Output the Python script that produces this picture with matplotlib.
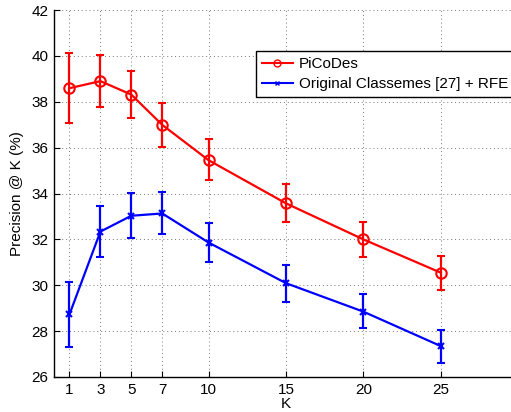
import numpy as np
import matplotlib as mpl
mpl.use("Agg")
import matplotlib.pyplot as plt
from matplotlib.lines import Line2D

mpl.rcParams.update({"font.family": ["Liberation Sans", "DejaVu Sans"]})

# Precision@K for the two methods, with lower/upper ends of the error bars
K = [1, 3, 5, 7, 10, 15, 20, 25]
picodes = [38.59, 38.90, 38.31, 36.99, 35.45, 33.57, 32.00, 30.55]
picodes_lo = [37.06, 37.76, 37.29, 36.04, 34.59, 32.74, 31.25, 29.79]
picodes_hi = [40.14, 40.04, 39.34, 37.93, 36.36, 34.40, 32.77, 31.28]
classemes = [28.73, 32.34, 33.03, 33.13, 31.86, 30.09, 28.85, 27.35]
classemes_lo = [27.30, 31.22, 32.05, 32.22, 31.00, 29.28, 28.13, 26.63]
classemes_hi = [30.16, 33.46, 34.01, 34.08, 32.73, 30.88, 29.61, 28.05]
labels = ["PiCoDes", "Original Classemes [27] + RFE"]
RED, BLUE = "#ff0000", "#0000ff"

W, H = 511, 412
fig = plt.figure(figsize=(W / 100, H / 100), dpi=100)
ax = fig.add_axes([54 / W, 1 - 377 / H, (518 - 54) / W, (377 - 10) / H])

def series(y, lo, hi, color, marker, ms):
    y, lo, hi = map(np.asarray, (y, lo, hi))
    ax.errorbar(K, y, yerr=[y - lo, hi - y], color=color, marker=marker, ms=ms,
                mfc="none", mew=1.5, lw=1.6, elinewidth=1.6, capsize=3, capthick=1.6,
                zorder=3)

series(picodes, picodes_lo, picodes_hi, RED, "o", 7.5)
series(classemes, classemes_lo, classemes_hi, BLUE, "x", 5)

ax.set_xlim(0, 30)
ax.set_ylim(26, 42)
ax.set_xticks(K)
ax.set_yticks(np.arange(26, 43, 2))
ax.tick_params(direction="in", length=4, width=0.8, labelsize=11, pad=4)
ax.grid(True, color="#777777", ls=(0, (1, 3)), lw=0.7)
ax.set_axisbelow(True)
for s in ["top", "right"]:
    ax.spines[s].set_visible(False)
for s in ["left", "bottom"]:
    ax.spines[s].set_linewidth(1.0)

ax.set_xlabel("K", fontsize=11, labelpad=0)
ax.set_ylabel("Precision @ K (%)", fontsize=11, labelpad=5)

handles = [Line2D([], [], color=RED, lw=1.5, marker="o", ms=5, mfc="none", mew=1.0),
           Line2D([], [], color=BLUE, lw=1.5, marker="x", ms=3.5, mew=1.0)]
leg = ax.legend(handles, labels, loc="upper left", bbox_to_anchor=(256 / W, 1 - 51 / H),
                bbox_transform=fig.transFigure, borderaxespad=0, fontsize=11,
                fancybox=False, edgecolor="black", framealpha=1,
                handlelength=2.0, handletextpad=0.4, borderpad=0.4, labelspacing=0.4)
leg.get_frame().set_linewidth(1.0)

fig.savefig("out.png", dpi=100)
